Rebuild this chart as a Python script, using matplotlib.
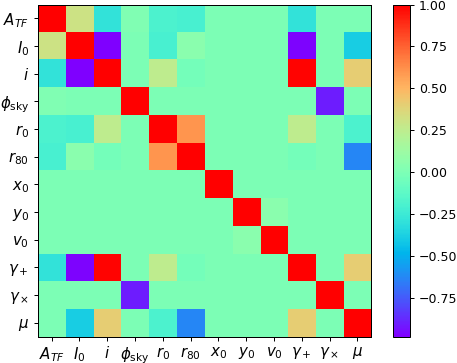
import matplotlib.pyplot as plt
import numpy as np

labels = [r'$A_{TF}$', r'$I_0$', r'$i$', r'$\phi_{\rm sky}$', r'$r_0$', r'$r_{80}$',
          r'$x_0$', r'$y_0$', r'$v_0$', r'$\gamma_+$', r'$\gamma_\times$', r'$\mu$']

# correlation matrix (symmetric)
row_atf = [1.00, 0.31, -0.29, 0.01, -0.19, -0.20, 0.00, 0.00, 0.00, -0.29, 0.00, 0.00]
row_i0 = [0.31, 1.00, -0.98, 0.00, -0.20, 0.05, 0.00, 0.00, 0.00, -0.97, 0.00, -0.39]
row_i = [-0.29, -0.98, 1.00, 0.00, 0.25, -0.03, 0.00, 0.00, 0.00, 0.99, 0.00, 0.41]
row_phi = [0.01, 0.00, 0.00, 1.00, 0.00, 0.00, 0.00, 0.00, 0.00, 0.00, -0.91, 0.00]
row_r0 = [-0.19, -0.20, 0.25, 0.00, 1.00, 0.60, 0.00, 0.00, 0.00, 0.25, 0.00, -0.19]
row_r80 = [-0.20, 0.05, -0.03, 0.00, 0.60, 1.00, 0.00, 0.00, 0.00, -0.03, 0.00, -0.63]
row_x0 = [0.00, 0.00, 0.00, 0.00, 0.00, 0.00, 1.00, 0.00, 0.00, 0.00, 0.00, 0.00]
row_y0 = [0.00, 0.00, 0.00, 0.00, 0.00, 0.00, 0.00, 1.00, 0.05, 0.00, 0.00, 0.00]
row_v0 = [0.00, 0.00, 0.00, 0.00, 0.00, 0.00, 0.00, 0.05, 1.00, 0.00, 0.00, 0.00]
row_gp = [-0.29, -0.97, 0.99, 0.00, 0.25, -0.03, 0.00, 0.00, 0.00, 1.00, 0.00, 0.41]
row_gx = [0.00, 0.00, 0.00, -0.91, 0.00, 0.00, 0.00, 0.00, 0.00, 0.00, 1.00, 0.00]
row_mu = [0.00, -0.39, 0.41, 0.00, -0.19, -0.63, 0.00, 0.00, 0.00, 0.41, 0.00, 1.00]

corr = np.array([row_atf, row_i0, row_i, row_phi, row_r0, row_r80,
                 row_x0, row_y0, row_v0, row_gp, row_gx, row_mu])

# drawn at 90 dpi so text and lines come out at the reference's pixel sizes
fig = plt.figure(figsize=(457 / 90, 363 / 90), dpi=90)
ax = fig.add_axes([0.0825, 0.0725, 0.730, 0.915])
cax = fig.add_axes([0.860, 0.0725, 0.037, 0.915])

im = ax.imshow(corr, cmap='rainbow', aspect='auto')
cb = fig.colorbar(im, cax=cax)
cb.set_ticks([1.0, 0.75, 0.5, 0.25, 0.0, -0.25, -0.5, -0.75])

ax.set_xticks(range(len(labels)))
ax.set_xticklabels(labels, fontsize=12)
ax.set_yticks(range(len(labels)))
ax.set_yticklabels(labels, fontsize=12)

plt.savefig('out.png', dpi=90)
